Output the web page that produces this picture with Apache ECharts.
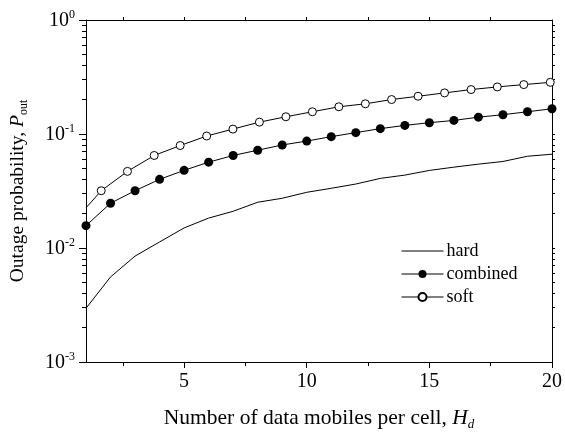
<!DOCTYPE html>
<html>
<head>
<meta charset="utf-8">
<script src="https://cdn.jsdelivr.net/npm/echarts@6/dist/echarts.min.js"></script>
<style>
  html, body { margin: 0; padding: 0; background: #fff; }
  #chart { width: 565px; height: 436px; }
</style>
</head>
<body>
<div id="chart"></div>
<script>
// data
var xValues = [1, 2, 3, 4, 5, 6, 7, 8, 9, 10, 11, 12, 13, 14, 15, 16, 17, 18, 19, 20];
var hardY = [0.00296, 0.00557, 0.00849, 0.0113, 0.0150, 0.0183, 0.0210, 0.0252, 0.0273, 0.0308,
	0.0334, 0.0364, 0.0408, 0.0436, 0.0479, 0.0512, 0.0544, 0.0574, 0.0638, 0.0665];
var combinedY = [0.0157, 0.0247, 0.0318, 0.0400, 0.0480, 0.0566, 0.0648, 0.0721, 0.0801, 0.0867,
	0.0948, 0.1028, 0.1114, 0.1190, 0.1256, 0.1315, 0.1406, 0.1476, 0.1567, 0.1665];
var softX = [1, 1.62, 2.69, 3.78, 4.84, 5.92, 6.99, 8.07, 9.15, 10.23, 11.31, 12.39, 13.46,
	14.54, 15.62, 16.70, 17.77, 18.85, 19.93];
var softY = [0.0225, 0.0318, 0.0470, 0.0648, 0.0792, 0.0960, 0.1104, 0.1271, 0.1416, 0.1567,
	0.1733, 0.1840, 0.2006, 0.2143, 0.2294, 0.2453, 0.2588, 0.2712, 0.2840];

var xMajorTicks = [5, 10, 15, 20];
var xMinorTicks = [2.5, 7.5, 12.5, 17.5];
var xAllTicks = [2.5, 5, 7.5, 10, 12.5, 15, 17.5];
var yMinorTicks = [0.002, 0.003, 0.004, 0.005, 0.006, 0.007, 0.008, 0.009,
	0.02, 0.03, 0.04, 0.05, 0.06, 0.07, 0.08, 0.09,
	0.2, 0.3, 0.4, 0.5, 0.6, 0.7, 0.8, 0.9];
var yAllTicks = [0.002, 0.003, 0.004, 0.005, 0.006, 0.007, 0.008, 0.009, 0.01,
	0.02, 0.03, 0.04, 0.05, 0.06, 0.07, 0.08, 0.09, 0.1,
	0.2, 0.3, 0.4, 0.5, 0.6, 0.7, 0.8, 0.9];

var FONT = '"Liberation Serif", "Times New Roman", serif';
var black = '#000';

function pairs(xs, ys) {
	return xs.map(function (x, i) { return [x, ys[i]]; });
}

var softData = pairs(softX, softY).map(function (p, i) {
	// first point only starts the line, no marker there
	return i === 0 ? { value: p, symbol: 'none' } : { value: p };
});

var chart = echarts.init(document.getElementById('chart'), null, { renderer: 'canvas' });

var option = {
	animation: false,
	backgroundColor: '#fff',
	textStyle: { fontFamily: FONT, color: black },
	grid: { left: 82, right: 13, top: 20, bottom: 72, containLabel: false },
	legend: {
		orient: 'vertical',
		left: 396,
		top: 237,
		itemWidth: 42,
		itemHeight: 10,
		itemGap: 5,
		lineStyle: { width: 1 },
		data: [
			{ name: 'hard', itemStyle: { opacity: 0, borderWidth: 0 } },
			{ name: 'combined' },
			{ name: 'soft' }
		],
		textStyle: { fontFamily: FONT, fontSize: 18, color: black, padding: [0, 0, 0, -2] }
	},
	xAxis: [{
		type: 'value',
		min: 1,
		max: 20,
		position: 'bottom',
		name: '{t|Number of data mobiles per cell, }{i|H}{sub|d}',
		nameLocation: 'middle',
		nameGap: 45,
		nameTextStyle: {
			rich: {
				t: { fontFamily: FONT, fontSize: 21.5, color: black, lineHeight: 24, verticalAlign: 'top' },
				i: { fontFamily: FONT, fontSize: 21.5, fontStyle: 'italic', color: black, lineHeight: 24, verticalAlign: 'top' },
				sub: { fontFamily: FONT, fontSize: 13, fontStyle: 'italic', color: black, lineHeight: 14, padding: [11, 0, 0, 0], verticalAlign: 'bottom' }
			}
		},
		axisLine: { show: true, onZero: false, lineStyle: { color: black, width: 1 } },
		axisTick: { show: true, inside: false, length: 6, customValues: xMajorTicks, lineStyle: { color: black } },
		axisLabel: { customValues: xMajorTicks, fontFamily: FONT, fontSize: 20, color: black, margin: 10 },
		splitLine: { show: false }
	}, {
		type: 'value',
		min: 1,
		max: 20,
		position: 'bottom',
		axisLine: { show: false },
		axisTick: { show: true, inside: false, length: 4, customValues: xMinorTicks, lineStyle: { color: black } },
		axisLabel: { show: false },
		splitLine: { show: false }
	}, {
		type: 'value',
		min: 1,
		max: 20,
		position: 'top',
		axisLine: { show: true, onZero: false, lineStyle: { color: black, width: 1 } },
		axisTick: { show: true, inside: false, length: 3, customValues: xAllTicks, lineStyle: { color: black } },
		axisLabel: { show: false },
		splitLine: { show: false }
	}],
	yAxis: [{
		type: 'log',
		logBase: 10,
		min: 0.001,
		max: 1,
		position: 'left',
		name: '{t|Outage probability, }{i|P}{sub|out}',
		nameLocation: 'middle',
		nameRotate: 90,
		nameGap: 56,
		nameTextStyle: {
			rich: {
				t: { fontFamily: FONT, fontSize: 19.5, color: black, lineHeight: 22, verticalAlign: 'top' },
				i: { fontFamily: FONT, fontSize: 19.5, fontStyle: 'italic', color: black, lineHeight: 22, verticalAlign: 'top' },
				sub: { fontFamily: FONT, fontSize: 12, color: black, lineHeight: 14, padding: [10, 0, 0, 0], verticalAlign: 'bottom' }
			}
		},
		axisLine: { show: true, onZero: false, lineStyle: { color: black, width: 1 } },
		axisTick: { show: true, inside: false, length: 7, lineStyle: { color: black } },
		axisLabel: {
			margin: 11,
			formatter: function (v) {
				var e = Math.round(Math.log10(v));
				return '{b|10}{s|' + e + '}';
			},
			rich: {
				b: { fontFamily: FONT, fontSize: 20, color: black, lineHeight: 22, verticalAlign: 'bottom' },
				s: { fontFamily: FONT, fontSize: 12, color: black, lineHeight: 12, verticalAlign: 'top' }
			}
		},
		splitLine: { show: false },
		minorTick: { show: false }
	}, {
		type: 'log',
		logBase: 10,
		min: 0.001,
		max: 1,
		position: 'left',
		axisLine: { show: false },
		axisTick: { show: true, inside: false, length: 4, customValues: yMinorTicks, lineStyle: { color: black } },
		axisLabel: { show: false },
		splitLine: { show: false }
	}, {
		type: 'log',
		logBase: 10,
		min: 0.001,
		max: 1,
		position: 'right',
		axisLine: { show: true, onZero: false, lineStyle: { color: black, width: 1 } },
		axisTick: { show: true, inside: false, length: 3, customValues: yAllTicks, lineStyle: { color: black } },
		axisLabel: { show: false },
		splitLine: { show: false }
	}],
	series: [{
		name: 'hard',
		type: 'line',
		xAxisIndex: 0,
		yAxisIndex: 0,
		data: pairs(xValues, hardY),
		symbol: 'none',
		lineStyle: { color: black, width: 1 },
		itemStyle: { color: black }
	}, {
		name: 'combined',
		type: 'line',
		xAxisIndex: 0,
		yAxisIndex: 0,
		data: pairs(xValues, combinedY),
		symbol: 'circle',
		symbolSize: 9,
		showAllSymbol: true,
		lineStyle: { color: black, width: 1 },
		itemStyle: { color: black }
	}, {
		name: 'soft',
		type: 'line',
		xAxisIndex: 0,
		yAxisIndex: 0,
		data: softData,
		symbol: 'circle',
		symbolSize: 8,
		showAllSymbol: true,
		lineStyle: { color: black, width: 1 },
		itemStyle: { color: '#fff', borderColor: black, borderWidth: 1 }
	}]
};

chart.setOption(option);
</script>
</body>
</html>
